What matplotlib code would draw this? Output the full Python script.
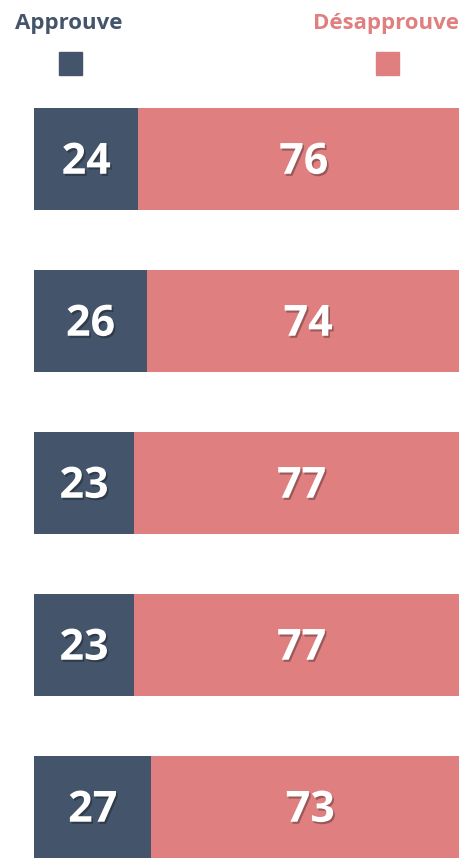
import numpy as np
import matplotlib.pyplot as plt
import matplotlib.patheffects as pe
from matplotlib.patches import Rectangle

approve = [24, 26, 23, 23, 27]
disapprove = [76, 74, 77, 77, 73]
labels = ["Approuve", "Désapprouve"]
colors = ["#44546a", "#e07f7f"]

plt.rcParams['font.family'] = ['Open Sans', 'DejaVu Sans']

fig = plt.figure(figsize=(4.6, 8.58), dpi=100)
# axes runs a little past the right edge so the bars are cut off like the original
ax = fig.add_axes([34/460, 0, 440/460, 750/858])

y = np.arange(len(approve))
h = 0.63
ax.barh(y, approve, height=h, color=colors[0])
ax.barh(y, disapprove, left=approve, height=h, color=colors[1])

shadow = [pe.withSimplePatchShadow(offset=(1.2, -1.5), shadow_rgbFace='black', alpha=0.3)]
for i in range(len(approve)):
    ax.text(approve[i] / 2, i + 0.02, str(approve[i]), ha='center', va='center',
            color='white', fontsize=31, fontweight='bold', path_effects=shadow)
    ax.text(approve[i] + disapprove[i] / 2, i + 0.02, str(disapprove[i]), ha='center', va='center',
            color='white', fontsize=31, fontweight='bold', path_effects=shadow)

ax.set_xlim(0, 440 / 4.35)
ax.set_ylim(len(approve) - 1 + h / 2, -h / 2)
ax.axis('off')

# header / legend
fig.text(15/460, 1 - 23/858, labels[0], color=colors[0], fontsize=16, fontweight='bold',
         ha='left', va='center')
fig.text(459/460, 1 - 23/858, labels[1], color=colors[1], fontsize=16, fontweight='bold',
         ha='right', va='center')
fig.patches.append(Rectangle((59/460, 1 - 75/858), 23/460, 23/858, color=colors[0],
                             transform=fig.transFigure, figure=fig))
fig.patches.append(Rectangle((376/460, 1 - 75/858), 23/460, 23/858, color=colors[1],
                             transform=fig.transFigure, figure=fig))

fig.savefig('out.png', dpi=100)
